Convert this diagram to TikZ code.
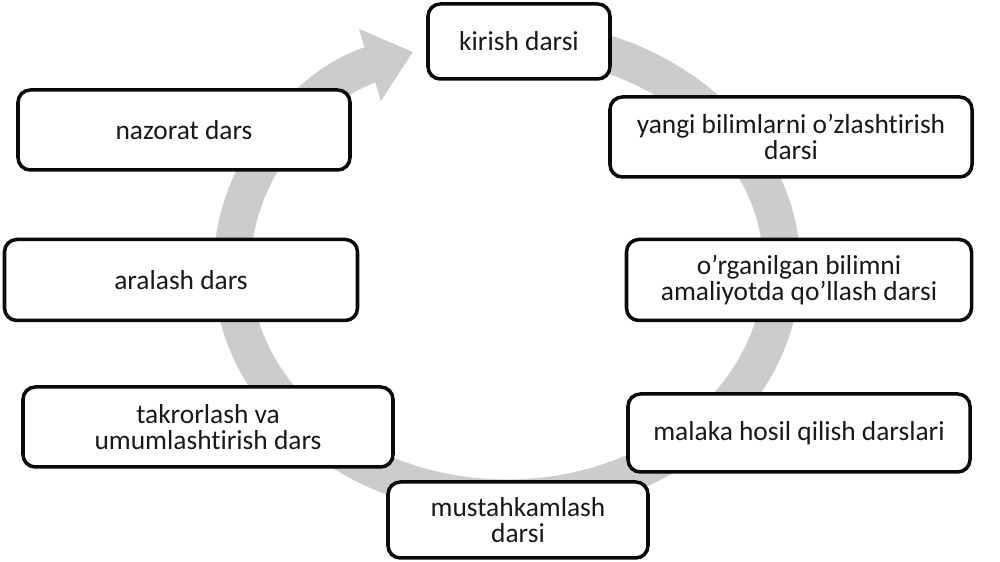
\documentclass[tikz,border=0pt]{standalone}
\usepackage{fontspec}
\setmainfont[Ligatures=NoCommon]{Carlito}
\usetikzlibrary{arrows.meta, positioning}
\definecolor{ringgray}{RGB}{204, 204, 204}
\definecolor{boxline}{RGB}{10, 10, 10}
\definecolor{textdark}{RGB}{25, 25, 25}

\begin{document}
\begin{tikzpicture}[
  lesson/.style={draw=boxline, fill=white, line width=2pt, rounded corners=7pt,
                 align=center, text=textdark,
                 font=\fontsize{15.6}{14.6}\selectfont},
  cycle/.style={draw=ringgray, line width=0.74cm,
                -{Triangle[width=1.45cm, length=0.9cm, fill=ringgray]}}
]
  \useasboundingbox (0,0) rectangle (20,11.24);

  % the grey loop behind the boxes
  \coordinate (ringstart) at ({10.14+5.5*cos(85)},{5.88+4.6*sin(85)});
  \draw[cycle] (ringstart)
    arc[start angle=85, end angle=-250, x radius=5.5cm, y radius=4.6cm];

  \node[lesson, minimum width=3.64cm, minimum height=1.5cm] (kirish)
    at (10.38,10.41) {kirish darsi};

  \node[lesson, minimum width=7.24cm, minimum height=1.6cm] (yangi)
    at (15.82,8.50) {yangi bilimlarni o’zlashtirish\\darsi};

  \node[lesson, minimum width=6.9cm, minimum height=1.62cm] (amaliyot)
    at (15.98,5.64) {o’rganilgan bilimni\\amaliyotda qo’llash darsi};

  \node[lesson, minimum width=6.84cm, minimum height=1.56cm] (malaka)
    at (15.98,2.58) {malaka hosil qilish darslari};

  \node[lesson, minimum width=5.2cm, minimum height=1.52cm] (mustahkam)
    at (10.36,0.84) {mustahkamlash\\darsi};

  \node[lesson, minimum width=7.4cm, minimum height=1.6cm] (takror)
    at (4.16,2.7) {takrorlash va\\umumlashtirish dars};

  \node[lesson, minimum width=7.06cm, minimum height=1.62cm] (aralash)
    at (3.62,5.64) {aralash dars};

  \node[lesson, minimum width=6.64cm, minimum height=1.6cm] (nazorat)
    at (3.68,8.64) {nazorat dars};
\end{tikzpicture}
\end{document}
